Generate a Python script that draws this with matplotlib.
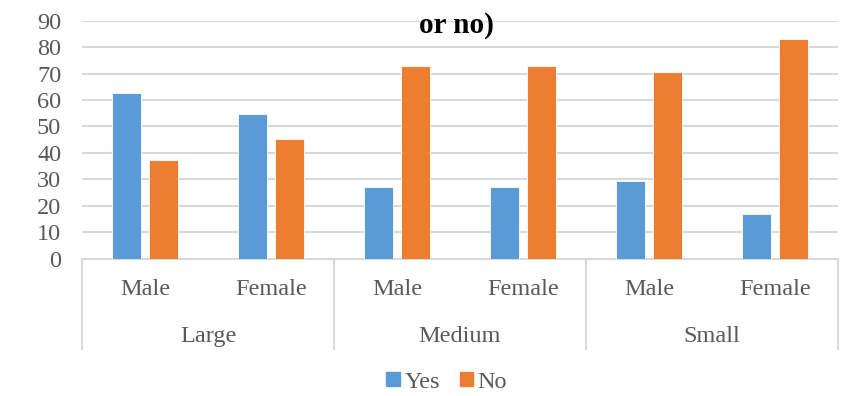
import numpy as np
import matplotlib
matplotlib.use("Agg")
from matplotlib import pyplot as plt
from matplotlib.patches import Patch
from matplotlib.transforms import blended_transform_factory

plt.rcParams['font.family'] = ['Liberation Serif', 'DejaVu Serif']

# chart data
sizes = ['Large', 'Medium', 'Small']
genders = ['Male', 'Female']
yes_vals = [62.5, 54.6, 27.3, 27.1, 29.5, 17.0]
no_vals = [37.5, 45.4, 72.7, 72.9, 70.5, 83.0]
yticks = [0, 10, 20, 30, 40, 50, 60, 70, 80, 90]

blue = '#5B9BD5'
orange = '#ED7D31'
grid_c = '#D9D9D9'
text_c = '#595959'
fs = 17.5

fig = plt.figure(figsize=(8.43, 3.96), dpi=100)
ax = fig.add_axes([0.0973, 0.3467, 0.8967, 0.601])

x = np.arange(len(yes_vals))
w = 0.23
off = 0.147
ax.bar(x - off, yes_vals, w, color=blue, edgecolor='white', linewidth=0.6, zorder=3)
ax.bar(x + off, no_vals, w, color=orange, edgecolor='white', linewidth=0.6, zorder=3)

ax.set_xlim(-0.5, len(x) - 0.5)
ax.set_ylim(0, 90)
ax.set_yticks(yticks)
ax.set_yticklabels([str(t) for t in yticks], fontsize=fs, color=text_c)
ax.tick_params(axis='y', length=0, pad=15)
ax.set_xticks([])
ax.yaxis.grid(True, color=grid_c, linewidth=1.5, zorder=0)
for s in ['top', 'right', 'left']:
    ax.spines[s].set_visible(False)
ax.spines['bottom'].set_color(grid_c)
ax.spines['bottom'].set_linewidth(1.5)

# two-level category axis
tr = blended_transform_factory(ax.transData, ax.transAxes)
for i, g in enumerate(genders * len(sizes)):
    ax.text(i, -0.13, g, transform=tr, ha='center', va='center',
            fontsize=fs, color=text_c)
for j, s in enumerate(sizes):
    ax.text(2 * j + 0.5, -0.325, s, transform=tr, ha='center', va='center',
            fontsize=fs, color=text_c)
for b in np.arange(-0.5, len(x), 2):
    ax.plot([b, b], [0, -0.379], transform=tr, color=grid_c,
            linewidth=1.5, clip_on=False)

fig.text(0.542, 0.935, 'or no)', ha='center', va='center',
         fontsize=21, fontweight='bold', color='black')

handles = [Patch(color=blue, label='Yes'), Patch(color=orange, label='No')]
fig.legend(handles=handles, loc='center', bbox_to_anchor=(0.53, 0.035),
           ncol=2, frameon=False, fontsize=fs, handlelength=0.55,
           handleheight=0.55, handletextpad=0.2, columnspacing=0.8,
           labelcolor=text_c)

fig.savefig('out.png', dpi=100)
